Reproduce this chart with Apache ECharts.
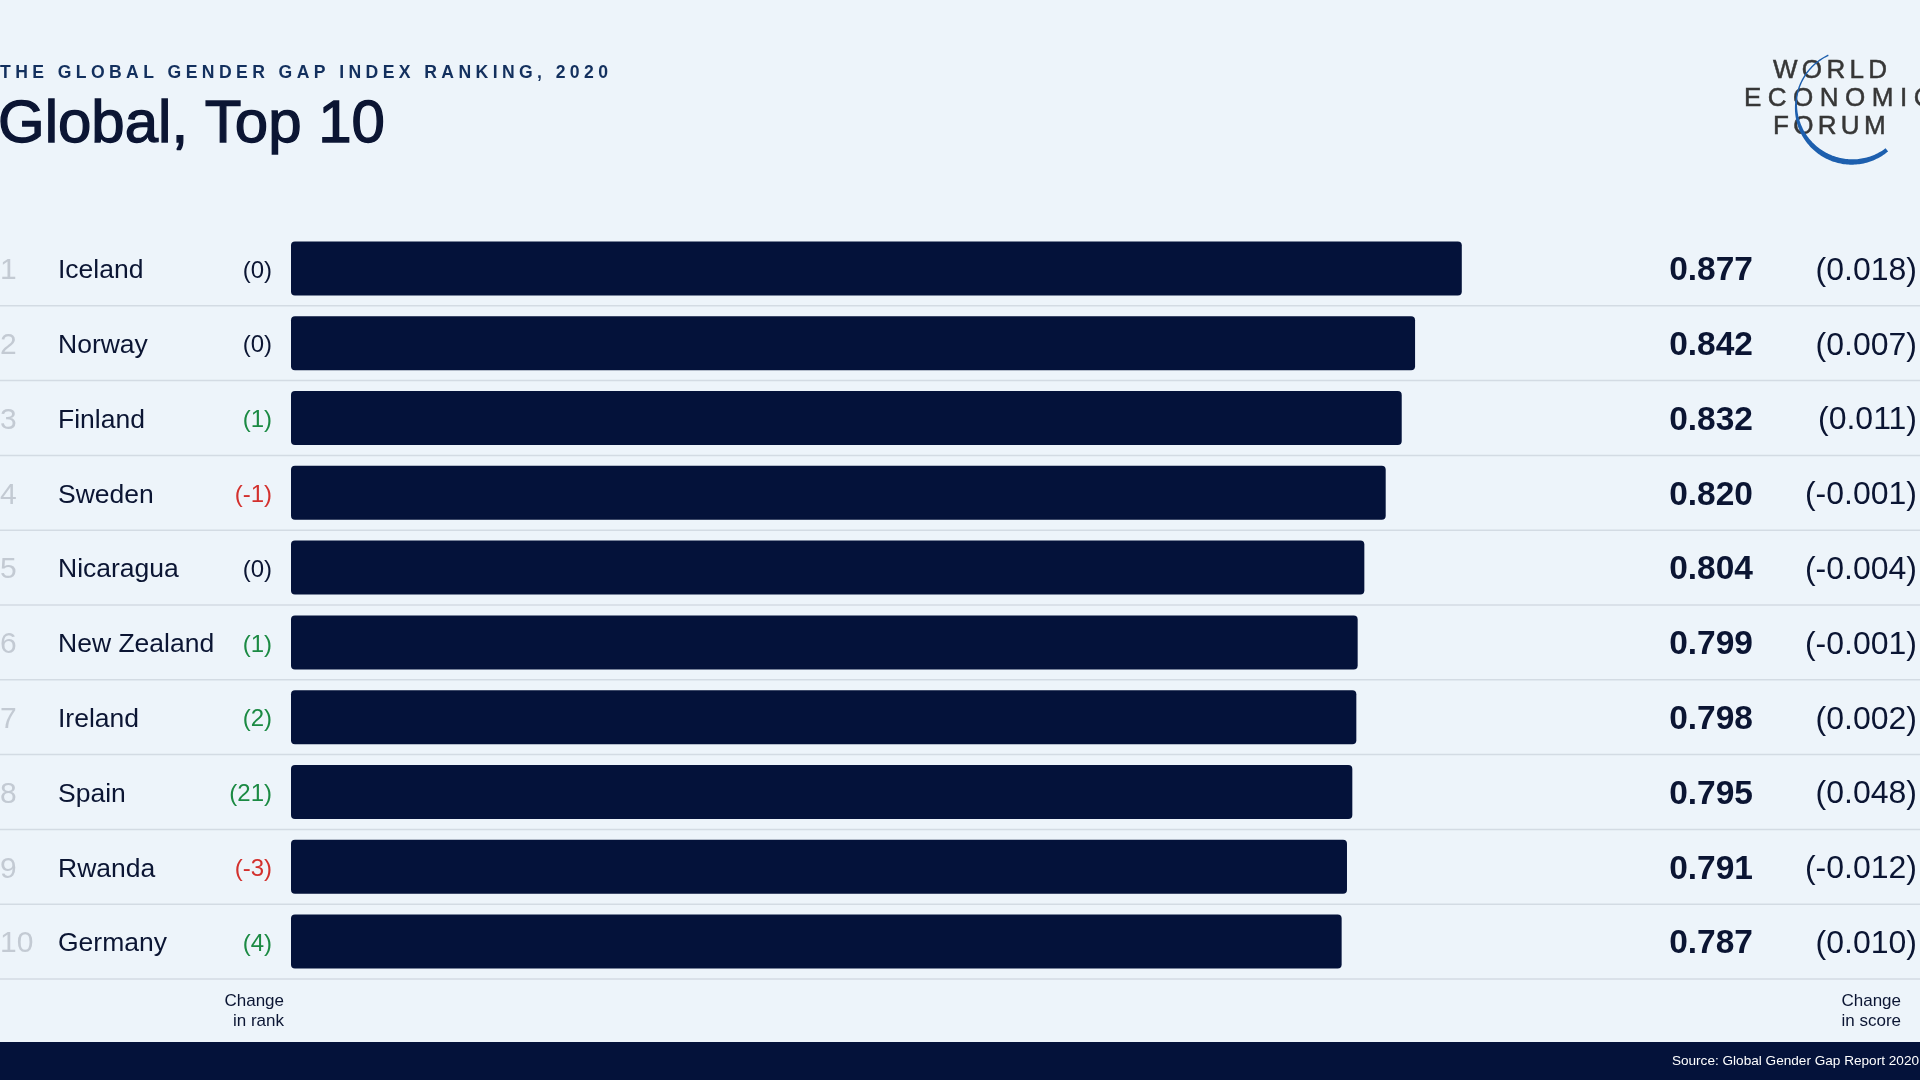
<!DOCTYPE html>
<html><head><meta charset="utf-8">
<script src="https://cdn.jsdelivr.net/npm/echarts@6/dist/echarts.min.js"></script>
<style>html,body{margin:0;padding:0;background:#edf4fa}#c{width:1920px;height:1080px}</style>
</head><body><div id="c"></div>
<script>
const ranks = [1, 2, 3, 4, 5, 6, 7, 8, 9, 10];
const countries = ['Iceland', 'Norway', 'Finland', 'Sweden', 'Nicaragua', 'New Zealand', 'Ireland', 'Spain', 'Rwanda', 'Germany'];
const scores = [0.877, 0.842, 0.832, 0.820, 0.804, 0.799, 0.798, 0.795, 0.791, 0.787];
const rankChanges = [0, 0, 1, -1, 0, 1, 2, 21, -3, 4];
const scoreChanges = [0.018, 0.007, 0.011, -0.001, -0.004, -0.001, 0.002, 0.048, -0.012, 0.010];

const NAVY = '#04123a';
const TEXT = '#0b1533';
const FONT = '"Liberation Sans", Arial, Helvetica, sans-serif';

function spaced(s, sep) { return s.split('').join(sep); }

const chart = echarts.init(document.getElementById('c'), null, {renderer: 'canvas'});

// logo arc (crescent) points
const cx = 1852, cy = 106, R = 56;
const outer = [], inner = [];
const a0 = 51.5, a1 = 246;
for (let a = a0; a <= a1; a += 1.5) {
  const t = a * Math.PI / 180;
  const w = 1.4 + 4 * Math.max(0, Math.cos((a - 100) * Math.PI / 180));
  outer.push([cx + (R + w / 2) * Math.cos(t), cy + (R + w / 2) * Math.sin(t)]);
  inner.push([cx + (R - w / 2) * Math.cos(t), cy + (R - w / 2) * Math.sin(t)]);
}
const crescent = outer.concat(inner.reverse());

const option = {
  backgroundColor: '#edf4fa',
  animation: false,
  grid: {left: 291, right: 294, top: 231, height: 748, containLabel: false},
  xAxis: {type: 'value', min: 0, max: 1, show: false},
  yAxis: {
    type: 'category', data: countries, inverse: true,
    axisLine: {show: false}, axisTick: {show: false}, axisLabel: {show: false}, splitLine: {show: false}
  },
  series: [
    {
      type: 'bar', data: scores, barWidth: 54, silent: true,
      itemStyle: {color: NAVY, borderRadius: 4}
    },
    {
      type: 'custom', clip: false, silent: true, z: 1,
      data: scores.map((s, i) => [s, i]),
      encode: {x: 0, y: 1},
      renderItem: function (params, api) {
        const i = api.value(1);
        const y = api.coord([0, i])[1];
        const band = api.size([0, 1])[1];
        const W = api.getWidth();
        const rc = rankChanges[i];
        const rcColor = rc > 0 ? '#1b8a43' : (rc < 0 ? '#d3302d' : TEXT);
        const sc = scoreChanges[i];
        const ty = y + 2.5;
        return {
          type: 'group',
          children: [
            {type: 'line', shape: {x1: 0, y1: y + band / 2, x2: W, y2: y + band / 2},
             style: {stroke: '#d3dbe3', lineWidth: 1.5}},
            {type: 'text', style: {text: String(ranks[i]), x: 0, y: ty, fill: '#c3cad3',
              font: '30px ' + FONT, align: 'left', verticalAlign: 'middle'}},
            {type: 'text', style: {text: countries[i], x: 58, y: ty, fill: TEXT,
              font: '26.5px ' + FONT, align: 'left', verticalAlign: 'middle'}},
            {type: 'text', style: {text: '(' + rc + ')', x: 272, y: ty, fill: rcColor,
              font: '24px ' + FONT, align: 'right', verticalAlign: 'middle'}},
            {type: 'text', style: {text: scores[i].toFixed(3), x: 1753, y: ty, fill: TEXT,
              font: 'bold 33.5px ' + FONT, align: 'right', verticalAlign: 'middle'}},
            {type: 'text', style: {text: '(' + sc.toFixed(3) + ')', x: 1917, y: ty, fill: TEXT,
              font: '32px ' + FONT, align: 'right', verticalAlign: 'middle'}}
          ]
        };
      }
    }
  ],
  graphic: [
    {type: 'text', x: 0, y: 73, style: {
      text: spaced('THE GLOBAL GENDER GAP INDEX RANKING, 2020', '\u2005'),
      fill: '#13305e', font: 'bold 17.6px ' + FONT, align: 'left', verticalAlign: 'middle'}},
    {type: 'text', x: -2, y: 125, style: {
      text: 'Global, Top 10', fill: TEXT, stroke: TEXT, lineWidth: 1.3,
      font: '60px ' + FONT, align: 'left', verticalAlign: 'middle'}},
    {type: 'text', x: 1773, y: 71, style: {text: spaced('WORLD', '\u2006'), fill: '#363636', stroke: '#363636', lineWidth: 0.5,
      font: '26px ' + FONT, align: 'left', verticalAlign: 'middle'}},
    {type: 'text', x: 1744, y: 99, style: {text: spaced('ECONOMIC', '\u2005'), fill: '#363636', stroke: '#363636', lineWidth: 0.5,
      font: '26px ' + FONT, align: 'left', verticalAlign: 'middle'}},
    {type: 'text', x: 1773, y: 127, style: {text: spaced('FORUM', '\u2006'), fill: '#363636', stroke: '#363636', lineWidth: 0.5,
      font: '26px ' + FONT, align: 'left', verticalAlign: 'middle'}},
    {type: 'polygon', shape: {points: crescent}, style: {fill: '#1d5fae'}},
    {type: 'text', x: 284, y: 1011, style: {text: 'Change\nin rank', fill: TEXT,
      font: '17px ' + FONT, lineHeight: 20, align: 'right', verticalAlign: 'middle'}},
    {type: 'text', x: 1901, y: 1011, style: {text: 'Change\nin score', fill: TEXT,
      font: '17px ' + FONT, lineHeight: 20, align: 'right', verticalAlign: 'middle'}},
    {type: 'rect', shape: {x: 0, y: 1042, width: 1920, height: 38}, style: {fill: NAVY}},
    {type: 'text', x: 1919, y: 1061, style: {text: 'Source: Global Gender Gap Report 2020', fill: '#ffffff',
      font: '13.6px ' + FONT, align: 'right', verticalAlign: 'middle'}}
  ]
};
chart.setOption(option);
</script>
</body></html>
